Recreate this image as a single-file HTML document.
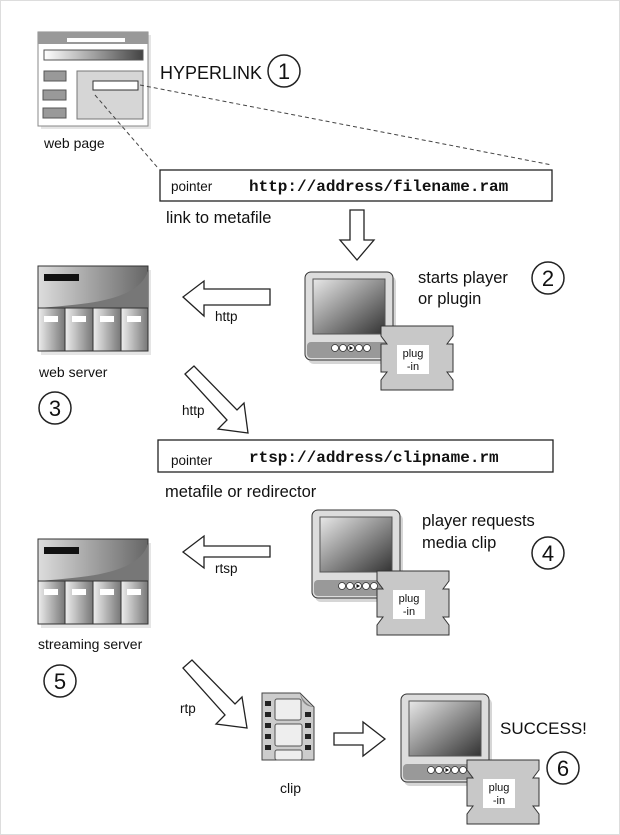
<!DOCTYPE html>
<html><head><meta charset="utf-8"><style>
html,body{margin:0;padding:0;background:#fff}
svg{display:block}
text{font-family:"Liberation Sans",sans-serif;fill:#111}
.m{font-family:"Liberation Mono",monospace;font-weight:bold}
</style></head><body>
<svg width="620" height="835" viewBox="0 0 620 835" xmlns="http://www.w3.org/2000/svg">
<defs>
<linearGradient id="gs" x1="0" y1="0" x2="1" y2="1"><stop offset="0" stop-color="#e8e8e8"/><stop offset="1" stop-color="#333"/></linearGradient>
<linearGradient id="gt" x1="0" y1="0" x2="1" y2="0"><stop offset="0" stop-color="#ddd"/><stop offset="1" stop-color="#666"/></linearGradient>
<linearGradient id="gc" x1="0" y1="0" x2="1" y2="0"><stop offset="0" stop-color="#eee"/><stop offset="1" stop-color="#777"/></linearGradient>
<linearGradient id="gb" x1="0" y1="0" x2="1" y2="0"><stop offset="0" stop-color="#fff"/><stop offset="1" stop-color="#444"/></linearGradient>
<g id="server">
<rect x="3" y="4" width="110" height="85" fill="#ccc" opacity=".5"/>
<rect x="0" y="0" width="110" height="85" fill="url(#gt)" stroke="#333"/>
<path d="M0,42 C50,38 100,35 110,5 L110,42 Z" fill="#777"/>
<rect x="6" y="8" width="35" height="7" fill="#111"/>
<g stroke="#333" fill="url(#gc)">
<rect x="0" y="42" width="27" height="43"/><rect x="27" y="42" width="28" height="43"/><rect x="55" y="42" width="28" height="43"/><rect x="83" y="42" width="27" height="43"/>
</g>
<g fill="#fff"><rect x="6" y="50" width="14" height="6"/><rect x="34" y="50" width="14" height="6"/><rect x="62" y="50" width="14" height="6"/><rect x="89" y="50" width="14" height="6"/></g>
</g>
<g id="player">
<rect x="3" y="4" width="88" height="88" rx="6" fill="#bbb" opacity=".6"/>
<rect x="0" y="0" width="88" height="88" rx="6" fill="#ddd" stroke="#333"/>
<rect x="2" y="70" width="84" height="16" rx="4" fill="#999"/>
<rect x="8" y="7" width="72" height="55" fill="url(#gs)" stroke="#555"/>
<g fill="#fff" stroke="#333" stroke-width=".8"><circle cx="30" cy="76" r="3.5"/><circle cx="38" cy="76" r="3.5"/><circle cx="46" cy="76" r="3.5"/><circle cx="54" cy="76" r="3.5"/><circle cx="62" cy="76" r="3.5"/></g>
<path d="M44.5,74 L48,76 L44.5,78 Z" fill="#111"/>
</g>
<g id="plug">
<path d="M0,0 H72 V10 L66,18 H72 V46 H66 L72,54 V64 H0 V54 L6,46 H0 V18 H6 L0,10 Z" fill="#c8c8c8" stroke="#333"/>
<rect x="16" y="19" width="32" height="29" fill="#fff"/>
<text x="32" y="31" font-size="11" text-anchor="middle">plug</text>
<text x="32" y="44" font-size="11" text-anchor="middle">-in</text>
</g>
</defs>
<rect x="0.5" y="0.5" width="619" height="834" fill="#fff" stroke="#ddd"/>

<!-- web page -->
<rect x="41" y="35" width="110" height="94" fill="#ccc" opacity=".5"/>
<rect x="38" y="32" width="110" height="94" fill="#fff" stroke="#888"/>
<rect x="38" y="32" width="110" height="12" fill="#999"/>
<rect x="67" y="38" width="58" height="4" fill="#fff"/>
<rect x="44" y="50" width="99" height="10" fill="url(#gb)" stroke="#555"/>
<g fill="#999" stroke="#555"><rect x="44" y="71" width="22" height="10"/><rect x="43" y="90" width="23" height="10"/><rect x="43" y="108" width="23" height="10"/></g>
<rect x="77" y="71" width="66" height="48" fill="#d6d6d6" stroke="#777"/>
<rect x="93" y="81" width="45" height="9" fill="#fff" stroke="#333"/>
<text x="44" y="148" font-size="14">web page</text>
<g stroke="#444" stroke-dasharray="4,3" fill="none"><line x1="140" y1="85" x2="552" y2="165"/><line x1="95" y1="95" x2="158" y2="168"/></g>
<text x="160" y="79" font-size="18">HYPERLINK</text>

<!-- box 1 -->
<rect x="160" y="170" width="392" height="31" fill="#fff" stroke="#222" stroke-width="1.3"/>
<text x="171" y="191" font-size="13.5">pointer</text>
<text x="249" y="191" font-size="16" class="m">http://address/filename.ram</text>
<text x="166" y="223" font-size="16.5">link to metafile</text>

<!-- down arrow -->
<path d="M350,210 H364 V240 H374 L357,260 L340,240 H350 Z" fill="#fff" stroke="#222" stroke-width="1.3"/>

<use href="#server" x="38" y="266"/>
<text x="39" y="377" font-size="14">web server</text>
<use href="#player" x="305" y="272"/>
<use href="#plug" x="381" y="326"/>
<text x="418" y="283" font-size="16.5">starts player</text>
<text x="418" y="304" font-size="16.5">or plugin</text>

<!-- left arrow 1 -->
<path d="M270,289 V305 H204 V316 L183,297 L204,281 V289 Z" fill="#fff" stroke="#222" stroke-width="1.3"/>
<text x="215" y="321" font-size="13.5">http</text>
<!-- diagonal 1 -->
<path d="M185,374 L194,366 L237,410 L244,403 L248,433 L218,429 L227,420 Z" fill="#fff" stroke="#222" stroke-width="1.3"/>
<text x="182" y="415" font-size="13.5">http</text>

<!-- box 2 -->
<rect x="158" y="440" width="395" height="32" fill="#fff" stroke="#222" stroke-width="1.3"/>
<text x="171" y="465" font-size="13.5">pointer</text>
<text x="249" y="462" font-size="16" class="m">rtsp://address/clipname.rm</text>
<text x="165" y="497" font-size="16.5">metafile or redirector</text>

<use href="#server" x="38" y="539"/>
<text x="38" y="649" font-size="14">streaming server</text>
<use href="#player" x="312" y="510"/>
<use href="#plug" x="377" y="571"/>
<text x="422" y="526" font-size="16.5">player requests</text>
<text x="422" y="548" font-size="16.5">media clip</text>

<!-- left arrow 2 -->
<path d="M270,546 V557 H204 V568 L183,552 L204,536 V546 Z" fill="#fff" stroke="#222" stroke-width="1.3"/>
<text x="215" y="573" font-size="13.5">rtsp</text>
<!-- diagonal 2 -->
<path d="M183,668 L192,660 L235,704 L242,697 L247,728 L216,724 L225,715 Z" fill="#fff" stroke="#222" stroke-width="1.3"/>
<text x="180" y="713" font-size="13.5">rtp</text>

<!-- clip -->
<path d="M262,693 H300 L314,707 V760 H262 Z" fill="#ccc" stroke="#444"/>
<path d="M300,693 Q302,707 314,707 Q304,704 300,693" fill="#888"/>
<g fill="#222"><rect x="265" y="701" width="6" height="5"/><rect x="265" y="712" width="6" height="5"/><rect x="265" y="723" width="6" height="5"/><rect x="265" y="734" width="6" height="5"/><rect x="265" y="745" width="6" height="5"/><rect x="305" y="712" width="6" height="5"/><rect x="305" y="723" width="6" height="5"/><rect x="305" y="734" width="6" height="5"/><rect x="305" y="745" width="6" height="5"/></g>
<g fill="#eee" stroke="#555"><rect x="275" y="699" width="26" height="21" rx="2"/><rect x="275" y="724" width="27" height="22" rx="2"/><rect x="275" y="750" width="27" height="10" rx="2"/></g>
<text x="280" y="793" font-size="14">clip</text>

<!-- right arrow -->
<path d="M334,733 H363 V722 L385,739 L363,756 V745 H334 Z" fill="#fff" stroke="#222" stroke-width="1.3"/>

<use href="#player" x="401" y="694"/>
<use href="#plug" x="467" y="760"/>
<text x="500" y="734" font-size="17">SUCCESS!</text>

<!-- numbers -->
<g fill="none" stroke="#222" stroke-width="1.5">
<circle cx="284" cy="71" r="16"/><circle cx="548" cy="278" r="16"/><circle cx="55" cy="408" r="16"/><circle cx="548" cy="553" r="16"/><circle cx="60" cy="681" r="16"/><circle cx="563" cy="768" r="16"/>
</g>
<g font-size="22" text-anchor="middle">
<text x="284" y="79">1</text><text x="548" y="286">2</text><text x="55" y="416">3</text><text x="548" y="561">4</text><text x="60" y="689">5</text><text x="563" y="776">6</text>
</g>
</svg>
</body></html>
